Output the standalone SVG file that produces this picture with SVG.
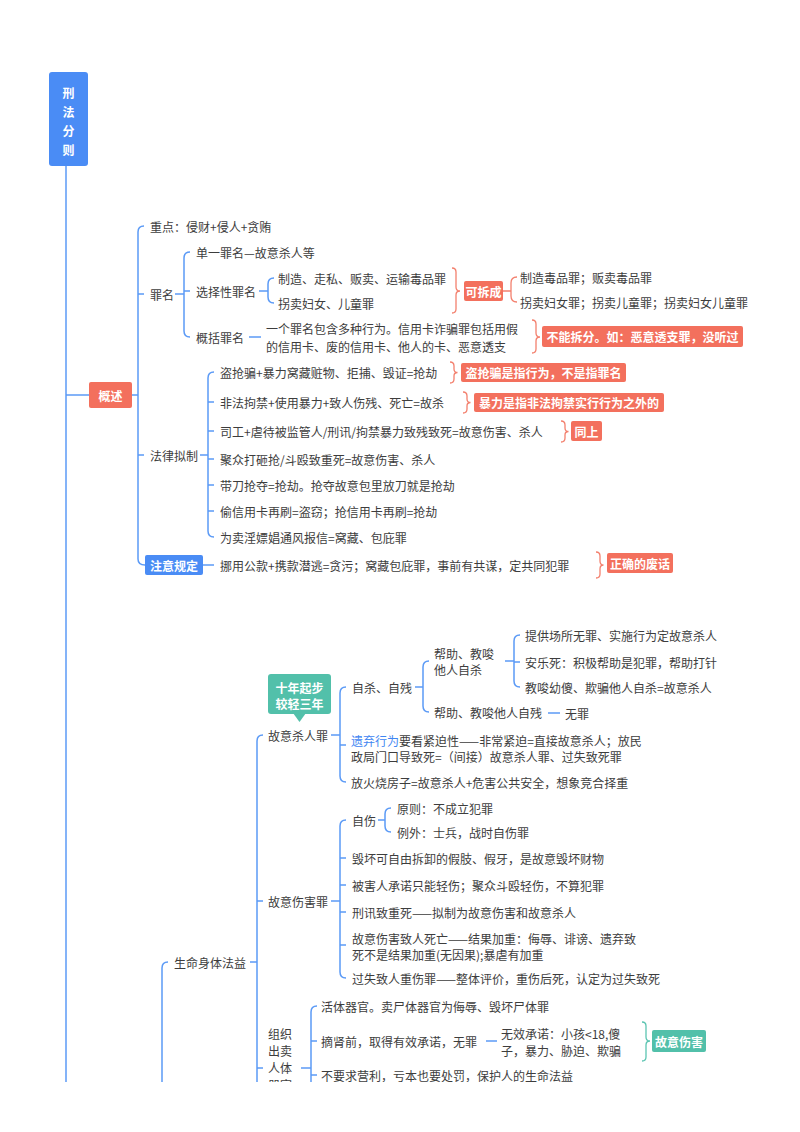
<svg xmlns="http://www.w3.org/2000/svg" width="800" height="1132" viewBox="0 0 800 1132">
<defs>
<style>
.ln{fill:none;stroke:#5b9af6;stroke-width:1.5}
.rb{fill:none;stroke:#f3806e;stroke-width:1.3}
.tb{fill:none;stroke:#5cc5b2;stroke-width:1.3}
.t{font-family:"Noto Sans CJK SC","Liberation Sans",sans-serif;font-size:12px;fill:#3d3d3d;dominant-baseline:central}
.w{fill:#fff;font-weight:bold;text-anchor:middle}
.blue{fill:#4a8cf5}
.red{fill:#f3705d}
.teal{fill:#52c0aa}
</style>
<clipPath id="clip"><rect x="0" y="0" width="800" height="1082"/></clipPath>
</defs>
<rect width="800" height="1132" fill="#fff"/>
<g clip-path="url(#clip)">
<g id="connectors">
<path class="ln" d="M66 166 V1132"/>
<path class="ln" d="M66 395 H89"/>
<path class="ln" d="M132 395 H138"/>
<path class="ln" d="M144 226 Q138 226 138 232 V559 Q138 565 145 565"/>
<path class="ln" d="M138 294 H144 M138 455 H144"/>
<path class="ln" d="M175 294 H184"/>
<path class="ln" d="M190 252 Q184 252 184 258 V331 Q184 337 190 337 M184 291 H190"/>
<path class="ln" d="M259 291 H268"/>
<path class="ln" d="M274 278 Q268 278 268 284 V297 Q268 303 274 303"/>
<path class="ln" d="M249 337 H261"/>
<path class="ln" d="M200 455 H208"/>
<path class="ln" d="M214 372 Q208 372 208 378 V531 Q208 537 214 537 M208 402 H214 M208 431 H214 M208 459 H214 M208 485 H214 M208 511 H214"/>
<path class="ln" d="M203 565 H214"/>
<path class="rb" d="M503 291 H511 M517 277 Q511 277 511 283 V296 Q511 302 517 302"/>
<path class="rb" d="M452 268 Q456 268 456 272 V287 Q456 291 460 291 Q456 291 456 295 V309 Q456 313 452 313"/>
<path class="rb" d="M532 320 Q536 320 536 324 V333 Q536 337 540 337 Q536 337 536 341 V349 Q536 353 532 353"/>
<path class="rb" d="M450 362 Q454 362 454 366 V369 Q454 372.5 457.5 372.5 Q454 372.5 454 376 V379 Q454 383 450 383"/>
<path class="rb" d="M463 392 Q467 392 467 396 V399 Q467 402.5 470.5 402.5 Q467 402.5 467 406 V409 Q467 413 463 413"/>
<path class="rb" d="M561 421 Q565 421 565 425 V428 Q565 431.5 568.5 431.5 Q565 431.5 565 435 V438 Q565 442 561 442"/>
<path class="rb" d="M596 552 Q600 552 600 556 V561 Q600 565 603.5 565 Q600 565 600 569 V574 Q600 578 596 578"/>
<path class="ln" d="M162 1132 V968 Q162 962 168 962"/>
<path class="ln" d="M250 962 H257"/>
<path class="ln" d="M263 735 Q257 735 257 741 V1132 M257 901 H263 M257 1068 H263"/>
<path class="ln" d="M331 735 H340"/>
<path class="ln" d="M346 687 Q340 687 340 693 V776 Q340 782 346 782 M340 745 H346"/>
<path class="ln" d="M415 687 H423"/>
<path class="ln" d="M429 661 Q423 661 423 667 V706 Q423 712 429 712"/>
<path class="ln" d="M505 661 H514"/>
<path class="ln" d="M520 635 Q514 635 514 641 V681 Q514 687 520 687 M514 662 H520"/>
<path class="ln" d="M548 713 H560"/>
<path class="ln" d="M331 901 H340"/>
<path class="ln" d="M346 820 Q340 820 340 826 V972 Q340 978 346 978 M340 858 H346 M340 885 H346 M340 912 H346 M340 945 H346"/>
<path class="ln" d="M378 820 H385"/>
<path class="ln" d="M391 808 Q385 808 385 814 V826 Q385 832 391 832"/>
<path class="ln" d="M301 1068 H311"/>
<path class="ln" d="M317 1006 Q311 1006 311 1012 V1132 M311 1041 H317 M311 1075 H317"/>
<path class="ln" d="M486 1041 H497"/>
<path class="tb" d="M642 1022 Q646 1022 646 1026 V1037 Q646 1041 650 1041 Q646 1041 646 1045 V1057 Q646 1061 642 1061"/>
</g>
<g id="root">
<rect class="blue" x="49" y="72" width="39" height="94" rx="3"/>
<text class="t w" x="68.5" y="92" font-size="16">刑</text>
<text class="t w" x="68.5" y="111.5" font-size="16">法</text>
<text class="t w" x="68.5" y="130.5" font-size="16">分</text>
<text class="t w" x="68.5" y="149.5" font-size="16">则</text>
</g>
<g id="gaishu">
<rect class="red" x="89" y="382" width="43" height="26" rx="2"/>
<text class="t w" x="110.5" y="395">概述</text>
</g>
<g id="zhongdian"><text class="t" x="150" y="226">重点：侵财+侵人+贪贿</text></g>
<g id="zuiming"><text class="t" x="150" y="294">罪名</text></g>
<g id="danyi"><text class="t" x="196" y="252">单一罪名—故意杀人等</text></g>
<g id="xuanze"><text class="t" x="196" y="291">选择性罪名</text></g>
<g id="xz1"><text class="t" x="278" y="278">制造、走私、贩卖、运输毒品罪</text></g>
<g id="xz2"><text class="t" x="278" y="303">拐卖妇女、儿童罪</text></g>
<g id="kechai">
<rect class="red" x="464" y="281" width="39" height="20" rx="2"/>
<text class="t w" x="483.5" y="291" font-size="11">可拆成</text>
</g>
<g id="kc1"><text class="t" x="520" y="277">制造毒品罪；贩卖毒品罪</text></g>
<g id="kc2"><text class="t" x="520" y="302">拐卖妇女罪；拐卖儿童罪；拐卖妇女儿童罪</text></g>
<g id="gaikuo"><text class="t" x="196" y="337">概括罪名</text></g>
<g id="gaikuo-desc">
<text class="t" x="266" y="328">一个罪名包含多种行为。信用卡诈骗罪包括用假</text>
<text class="t" x="266" y="346">的信用卡、废的信用卡、他人的卡、恶意透支</text>
</g>
<g id="buneng">
<rect class="red" x="542" y="326" width="201" height="21" rx="2"/>
<text class="t w" x="642.5" y="336.5">不能拆分。如：恶意透支罪，没听过</text>
</g>
<g id="falv"><text class="t" x="150" y="455">法律拟制</text></g>
<g id="fl1"><text class="t" x="220" y="372">盗抢骗+暴力窝藏赃物、拒捕、毁证=抢劫</text></g>
<g id="fl2"><text class="t" x="220" y="402">非法拘禁+使用暴力+致人伤残、死亡=故杀</text></g>
<g id="fl3"><text class="t" x="220" y="431">司工+虐待被监管人/刑讯/拘禁暴力致残致死=故意伤害、杀人</text></g>
<g id="fl4"><text class="t" x="220" y="459">聚众打砸抢/斗殴致重死=故意伤害、杀人</text></g>
<g id="fl5"><text class="t" x="220" y="485">带刀抢夺=抢劫。抢夺故意包里放刀就是抢劫</text></g>
<g id="fl6"><text class="t" x="220" y="511">偷信用卡再刷=盗窃；抢信用卡再刷=抢劫</text></g>
<g id="fl7"><text class="t" x="220" y="537">为卖淫嫖娼通风报信=窝藏、包庇罪</text></g>
<g id="n-daoqiang">
<rect class="red" x="461" y="363" width="165" height="19" rx="2"/>
<text class="t w" x="543.5" y="372.5">盗抢骗是指行为，不是指罪名</text>
</g>
<g id="n-baoli">
<rect class="red" x="474" y="393" width="190" height="19" rx="2"/>
<text class="t w" x="569" y="402.5">暴力是指非法拘禁实行行为之外的</text>
</g>
<g id="n-tongshang">
<rect class="red" x="571" y="421" width="31" height="20" rx="2"/>
<text class="t w" x="586.5" y="431">同上</text>
</g>
<g id="zhuyi">
<rect class="blue" x="145" y="555" width="58" height="20" rx="2"/>
<text class="t w" x="174" y="565">注意规定</text>
</g>
<g id="zhuyi-desc"><text class="t" x="220" y="565">挪用公款+携款潜逃=贪污；窝藏包庇罪，事前有共谋，定共同犯罪</text></g>
<g id="zhengque">
<rect class="red" x="607" y="553" width="66" height="20" rx="2"/>
<text class="t w" x="640" y="563">正确的废话</text>
</g>
<g id="shengming"><text class="t" x="174" y="962">生命身体法益</text></g>
<g id="gusha"><text class="t" x="268" y="735">故意杀人罪</text></g>
<g id="shinian">
<rect class="teal" x="268" y="674" width="63" height="40" rx="3"/>
<path class="teal" d="M293 713 L299.5 722 L306 713 Z"/>
<text class="t w" x="299.5" y="687" font-size="12.5">十年起步</text>
<text class="t w" x="299.5" y="703" font-size="12.5">较轻三年</text>
</g>
<g id="zisha"><text class="t" x="352" y="687">自杀、自残</text></g>
<g id="bangzhu1">
<text class="t" x="434" y="653">帮助、教唆</text>
<text class="t" x="434" y="669">他人自杀</text>
</g>
<g id="bz1a"><text class="t" x="525" y="635">提供场所无罪、实施行为定故意杀人</text></g>
<g id="bz1b"><text class="t" x="525" y="662">安乐死：积极帮助是犯罪，帮助打针</text></g>
<g id="bz1c"><text class="t" x="525" y="687">教唆幼傻、欺骗他人自杀=故意杀人</text></g>
<g id="bangzhu2"><text class="t" x="434" y="712">帮助、教唆他人自残</text></g>
<g id="wuzui"><text class="t" x="565" y="713">无罪</text></g>
<g id="yiqi">
<text class="t" x="351" y="740"><tspan fill="#3f86f2">遗弃行为</tspan>要看紧迫性——非常紧迫=直接故意杀人；放民</text>
<text class="t" x="351" y="756">政局门口导致死=（间接）故意杀人罪、过失致死罪</text>
</g>
<g id="fanghuo"><text class="t" x="351" y="782">放火烧房子=故意杀人+危害公共安全，想象竞合择重</text></g>
<g id="gushang"><text class="t" x="268" y="901">故意伤害罪</text></g>
<g id="zishang"><text class="t" x="352" y="820">自伤</text></g>
<g id="zs1"><text class="t" x="397" y="808">原则：不成立犯罪</text></g>
<g id="zs2"><text class="t" x="397" y="832">例外：士兵，战时自伤罪</text></g>
<g id="gs2"><text class="t" x="352" y="858">毁坏可自由拆卸的假肢、假牙，是故意毁坏财物</text></g>
<g id="gs3"><text class="t" x="352" y="885">被害人承诺只能轻伤；聚众斗殴轻伤，不算犯罪</text></g>
<g id="gs4"><text class="t" x="352" y="912">刑讯致重死——拟制为故意伤害和故意杀人</text></g>
<g id="gs5">
<text class="t" x="352" y="938">故意伤害致人死亡——结果加重：侮辱、诽谤、遗弃致</text>
<text class="t" x="352" y="954">死不是结果加重(无因果);暴虐有加重</text>
</g>
<g id="gs6"><text class="t" x="352" y="978">过失致人重伤罪——整体评价，重伤后死，认定为过失致死</text></g>
<g id="qiguan">
<text class="t" x="268" y="1033">组织</text>
<text class="t" x="268" y="1050">出卖</text>
<text class="t" x="268" y="1067">人体</text>
<text class="t" x="268" y="1084">器官</text>
</g>
<g id="qg1"><text class="t" x="321" y="1006">活体器官。卖尸体器官为侮辱、毁坏尸体罪</text></g>
<g id="qg2"><text class="t" x="321" y="1041">摘肾前，取得有效承诺，无罪</text></g>
<g id="wuxiao">
<text class="t" x="501" y="1033">无效承诺：小孩&lt;18,傻</text>
<text class="t" x="501" y="1050">子，暴力、胁迫、欺骗</text>
</g>
<g id="gsbox">
<rect class="teal" x="652" y="1030" width="54" height="22" rx="2"/>
<text class="t w" x="679" y="1041">故意伤害</text>
</g>
<g id="qg3"><text class="t" x="321" y="1075">不要求营利，亏本也要处罚，保护人的生命法益</text></g>
</g>
</svg>
